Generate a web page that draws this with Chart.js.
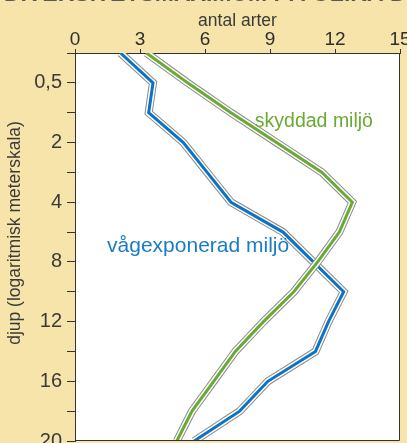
<!DOCTYPE html>
<html>
<head>
<meta charset="utf-8">
<script src="https://cdn.jsdelivr.net/npm/chart.js@4.4.1/dist/chart.umd.min.js"></script>
<style>
  html, body { margin: 0; padding: 0; background: #f6e4aa; }
</style>
</head>
<body>
<canvas id="chart" width="407" height="443"></canvas>
<script>
// djup (index along the category axis), every other step carries a label
const depthLabels = ['', '0,5', '', '2', '', '4', '', '8', '', '12', '', '16', '', '20'];
// antal arter per djup
const skyddad = [3.3, 5.2, 7.2, 9.3, 11.4, 12.8, 12.2, 11.2, 10.1, 8.7, 7.4, 6.4, 5.4, 4.7];
const vagexponerad = [2.1, 3.6, 3.4, 5.0, 6.1, 7.2, 9.6, 11.0, 12.4, 11.7, 11.1, 8.9, 7.6, 5.5];
const artTicks = [0, 3, 6, 9, 12, 15];

const GREEN = '#6aaa32';
const BLUE = '#0b73c6';
const CREAM = '#f6e4aa';
const FONT = '"Liberation Sans", Arial, sans-serif';

// each series is drawn as a coloured core inside a white band with a grey rim
function outlined(label, data, color, order) {
  const base = { data, pointRadius: 0, tension: 0, borderJoinStyle: 'miter', clip: 0, fill: false };
  return [
    { ...base, label, borderColor: color, borderWidth: 3, order },
    { ...base, label: label + ' kant', borderColor: '#ffffff', borderWidth: 6, order: order + 1 },
    { ...base, label: label + ' kontur', borderColor: '#8a8a8a', borderWidth: 8, order: order + 2 },
  ];
}

const paper = {
  id: 'paper',
  beforeDraw(chart) {
    const { ctx, chartArea: a } = chart;
    ctx.save();
    ctx.fillStyle = CREAM;
    ctx.fillRect(0, 0, chart.width, chart.height);
    ctx.fillStyle = '#ffffff';
    ctx.fillRect(a.left, a.top, a.right - a.left, a.bottom - a.top);

    // rubrik, bara nedre kanten syns
    ctx.fillStyle = '#585858';
    ctx.font = 'bold 23px ' + FONT;
    ctx.textBaseline = 'alphabetic';
    ctx.textAlign = 'left';
    ctx.fillText('DIVERSITETSMAXIMUM PÅ OLIKA DJUP', 4, 1);
    ctx.restore();
  },
  afterDraw(chart) {
    const { ctx, chartArea: a, scales } = chart;
    ctx.save();
    ctx.strokeStyle = '#333';
    ctx.lineWidth = 1;
    ctx.beginPath();
    ctx.moveTo(a.right - 0.5, a.top);
    ctx.lineTo(a.right - 0.5, a.bottom - 0.5);
    ctx.lineTo(a.left, a.bottom - 0.5);
    ctx.stroke();

    // axeltitlar
    ctx.fillStyle = '#3a3a3a';
    ctx.textAlign = 'center';
    ctx.textBaseline = 'middle';
    ctx.font = '17.5px ' + FONT;
    ctx.fillText('antal arter', (a.left + a.right) / 2, 21);
    ctx.translate(15, 233);
    ctx.rotate(-Math.PI / 2);
    ctx.fillText('djup (logaritmisk meterskala)', 0, 0);
    ctx.restore();

    // seriernas namn
    ctx.save();
    ctx.textAlign = 'left';
    ctx.textBaseline = 'alphabetic';
    ctx.font = '19.5px ' + FONT;
    ctx.fillStyle = GREEN;
    ctx.fillText('skyddad miljö', scales.x.getPixelForValue(8.3), scales.y.getPixelForValue(2.48));
    ctx.fillStyle = '#1a7bc6';
    ctx.font = '21px ' + FONT;
    ctx.fillText('vågexponerad miljö', scales.x.getPixelForValue(1.48), scales.y.getPixelForValue(6.66));
    ctx.restore();
  }
};

new Chart(document.getElementById('chart'), {
  type: 'line',
  data: {
    labels: depthLabels,
    datasets: [
      ...outlined('skyddad miljö', skyddad, GREEN, 0),
      ...outlined('vågexponerad miljö', vagexponerad, BLUE, 3),
    ],
  },
  options: {
    indexAxis: 'y',
    responsive: false,
    animation: false,
    layout: { padding: { left: 0, top: 0, right: 7, bottom: 2 } },
    plugins: { legend: { display: false }, tooltip: { enabled: false } },
    scales: {
      x: {
        type: 'linear',
        position: 'top',
        min: 0,
        max: 15,
        afterBuildTicks: (s) => { s.ticks = artTicks.map((v) => ({ value: v })); },
        afterFit: (s) => { s.height = 53; s.paddingLeft = 0; s.paddingRight = 0; },
        ticks: { color: '#2e2e2e', padding: 0, font: { family: FONT, size: 19, lineHeight: 1 } },
        grid: { drawOnChartArea: false, tickLength: 4, color: '#333', tickWidth: 1 },
        border: { color: '#333', width: 1 },
      },
      y: {
        type: 'category',
        afterFit: (s) => { s.width = 75; s.paddingTop = 0; s.paddingBottom = 0; },
        ticks: { autoSkip: false, color: '#3a3a3a', padding: 5, font: { family: FONT, size: 20 } },
        grid: { drawOnChartArea: false, tickLength: 8, color: '#333', tickWidth: 1 },
        border: { color: '#333', width: 1 },
      },
    },
  },
  plugins: [paper],
});
</script>
</body>
</html>
